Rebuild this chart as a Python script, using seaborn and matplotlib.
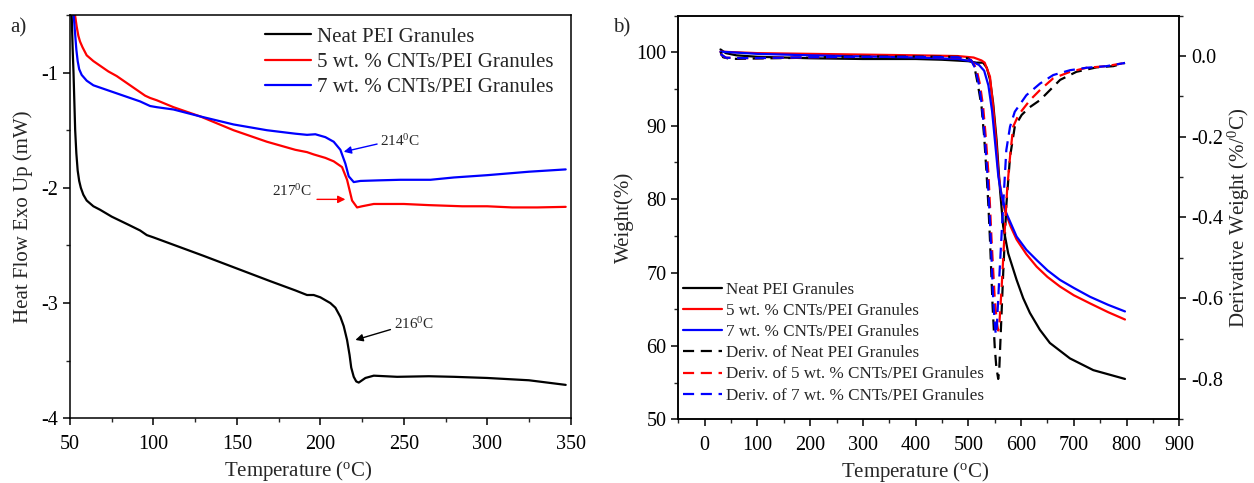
import numpy as np
import pandas as pd
import matplotlib
matplotlib.use("Agg")
import matplotlib.pyplot as plt
import seaborn as sns
from matplotlib.ticker import MultipleLocator, FormatStrFormatter
from matplotlib.lines import Line2D

# ---------------- DATA (a) DSC ----------------
dsc_neat_T = [51.0, 51.6, 52.1, 52.6, 53.1, 53.8, 54.6, 55.5, 56.5, 58, 60, 64, 68, 75, 85, 92, 96, 100,
              115, 130, 150, 170, 185, 192, 196, 200, 206, 209, 212, 214, 216, 217.5, 218.5, 220, 221.5,
              223, 225, 227, 232, 246, 265, 280, 300, 325, 347]
dsc_neat_v = [-0.5, -0.8, -1.0, -1.25, -1.5, -1.7, -1.85, -1.94, -2.0, -2.06, -2.11, -2.16, -2.19, -2.25, -2.32, -2.37, -2.41, -2.43,
              -2.51, -2.59, -2.70, -2.81, -2.89, -2.93, -2.93, -2.95, -3.0, -3.04, -3.12, -3.2, -3.32, -3.45, -3.56, -3.64, -3.68,
              -3.69, -3.67, -3.65, -3.63, -3.64, -3.635, -3.64, -3.65, -3.67, -3.71]

dsc_5_T = [53, 54, 55, 56, 57.5, 60, 64, 68, 73, 78, 85, 92, 95, 98, 102, 112, 128, 148, 168, 185, 192, 196,
           203, 208, 213, 216, 219, 222, 225, 232, 250, 265, 285, 300, 315, 330, 347]
dsc_5_v = [-0.5, -0.6, -0.68, -0.73, -0.78, -0.85, -0.9, -0.94, -0.99, -1.03, -1.1, -1.17, -1.2, -1.22, -1.24, -1.3, -1.38, -1.5, -1.6, -1.67, -1.69, -1.71,
           -1.74, -1.77, -1.82, -1.93, -2.11, -2.17, -2.16, -2.14, -2.14, -2.15, -2.16, -2.16, -2.17, -2.17, -2.165]

dsc_7_T = [52.2, 53, 53.8, 54.6, 55.5, 57, 60, 64, 72, 82, 92, 95, 98, 102, 112, 128, 148, 168, 185, 192, 197,
           203, 208, 212, 215, 217, 220, 224, 235, 248, 266, 280, 300, 325, 347]
dsc_7_v = [-0.5, -0.65, -0.8, -0.9, -0.97, -1.02, -1.07, -1.11, -1.15, -1.2, -1.25, -1.27, -1.29, -1.3, -1.32, -1.38, -1.45, -1.5, -1.53, -1.54, -1.535,
           -1.56, -1.60, -1.67, -1.79, -1.90, -1.95, -1.94, -1.935, -1.93, -1.93, -1.91, -1.89, -1.86, -1.84]

# ---------------- DATA (b) TGA ----------------
tga_neat_T = [30, 40, 60, 100, 200, 300, 400, 450, 500, 515, 528, 535, 541, 547, 553.5, 560, 566, 575.6, 591.5,
              604, 616.7, 635.6, 654.6, 692.6, 736.9, 797]
tga_neat_w = [100.4, 99.9, 99.6, 99.4, 99.2, 99.1, 99.1, 99.0, 98.8, 98.6, 98.6, 97.9, 96.3, 93.1, 88.1, 81.3, 76.3, 72.6, 69.0,
              66.5, 64.5, 62.2, 60.4, 58.3, 56.7, 55.5]

tga_5_T = [30, 100, 200, 300, 400, 480, 510, 525, 531, 541, 547, 552, 557, 563, 569, 580, 591.5, 610, 629.5,
           650, 673.6, 700, 730.6, 765, 797]
tga_5_w = [100.1, 99.9, 99.8, 99.7, 99.6, 99.5, 99.3, 98.9, 98.6, 96.7, 92.6, 88.5, 83.5, 80.5, 78.5, 76.3, 74.5, 72.5, 70.8,
           69.4, 68.1, 66.9, 65.8, 64.6, 63.6]

tga_7_T = [30, 100, 200, 300, 400, 480, 505, 520, 530, 538, 545, 551, 557, 563, 572, 591.5, 610, 629.5,
           650, 673.6, 700, 730.6, 765, 797]
tga_7_w = [100.1, 99.8, 99.6, 99.45, 99.3, 99.1, 98.8, 98.3, 97.5, 95.5, 92.0, 87.5, 83.0, 80.5, 78.1, 74.9, 73.1, 71.7,
           70.3, 69.0, 67.9, 66.7, 65.6, 64.7]

dtg_neat_T = [30, 35, 45, 60, 100, 150, 200, 250, 300, 400, 480, 500, 508, 512, 518, 525, 530, 534.5, 538, 541,
              546, 550, 553, 556.6, 558.5, 561, 566, 572, 579, 588, 601, 615, 636, 674, 705, 743, 775, 797]
dtg_neat_d = [0.01, -0.003, -0.006, -0.007, -0.006, -0.005, -0.004, -0.002, -0.001, -0.001, -0.002, -0.006, -0.015, -0.03, -0.07, -0.125, -0.2, -0.29, -0.37, -0.455,
              -0.62, -0.72, -0.77, -0.80, -0.78, -0.70, -0.54, -0.37, -0.25, -0.175, -0.146, -0.128, -0.109, -0.059, -0.039, -0.028, -0.025, -0.017]

dtg_5_T = [30, 40, 60, 100, 200, 300, 400, 480, 505, 515, 522, 528, 533, 538, 541, 544, 550, 554, 556.6, 559,
           562.8, 568, 573.6, 579, 585, 595, 617, 636, 661, 693, 724, 762, 797]
dtg_5_d = [0.005, -0.004, -0.005, -0.005, -0.003, -0.002, -0.002, -0.003, -0.01, -0.03, -0.07, -0.125, -0.2, -0.29, -0.37, -0.455, -0.60, -0.66, -0.68, -0.66,
           -0.58, -0.455, -0.33, -0.25, -0.175, -0.146, -0.109, -0.084, -0.055, -0.039, -0.029, -0.025, -0.017]

dtg_7_T = [30, 40, 60, 100, 200, 300, 400, 480, 505, 513, 520, 526, 531, 536, 539.5, 542.5, 547, 550, 552, 554,
           559, 566, 572, 579, 588, 610, 636, 661, 693, 724, 762, 797]
dtg_7_d = [0.005, -0.004, -0.005, -0.005, -0.003, -0.002, -0.002, -0.003, -0.01, -0.03, -0.07, -0.125, -0.2, -0.29, -0.37, -0.455, -0.60, -0.66, -0.69, -0.67,
           -0.54, -0.37, -0.233, -0.175, -0.138, -0.097, -0.068, -0.047, -0.035, -0.029, -0.025, -0.017]

labels = ["Neat PEI Granules", "5 wt. % CNTs/PEI Granules", "7 wt. % CNTs/PEI Granules"]
deriv_labels = ["Deriv. of Neat PEI Granules", "Deriv. of 5 wt. % CNTs/PEI Granules",
                "Deriv. of 7 wt. % CNTs/PEI Granules"]
colors = ["#000000", "#ff0000", "#0000ff"]

# ---------------- STYLE ----------------
sns.set_style("ticks")
plt.rcParams['font.family'] = ['Liberation Serif', 'DejaVu Serif']
plt.rcParams['mathtext.fontset'] = 'custom'
plt.rcParams['mathtext.rm'] = 'Liberation Serif'
plt.rcParams['mathtext.it'] = 'Liberation Serif:italic'
plt.rcParams['axes.unicode_minus'] = False
plt.rcParams['axes.linewidth'] = 1.1
plt.rcParams['axes.edgecolor'] = 'black'

TICK_FS = 14.5
LABEL_FS = 15
DASH = (0, (5, 3))

W, H = 1254, 483
fig = plt.figure(figsize=(W / 100, H / 100), dpi=100)

def fr(x0, y0, x1, y1):
    return [x0 / W, 1 - y1 / H, (x1 - x0) / W, (y1 - y0) / H]

ax1 = fig.add_axes(fr(70, 15, 570.7, 418.3))
ax2 = fig.add_axes(fr(678.3, 15.7, 1179.3, 419.3))
ax3 = ax2.twinx()

LW = 1.6

def style_ticks(ax):
    ax.tick_params(axis='both', which='major', direction='out', length=5, width=1.1,
                   labelsize=TICK_FS, colors='black')
    ax.tick_params(axis='both', which='minor', direction='out', length=3, width=1.0)
    ax.tick_params(axis='x', which='major', pad=7)

# ---------- panel a ----------
for T, v, lab, c in zip([dsc_neat_T, dsc_5_T, dsc_7_T], [dsc_neat_v, dsc_5_v, dsc_7_v], labels, colors):
    df = pd.DataFrame({"T": T, "v": v})
    sns.lineplot(data=df, x="T", y="v", ax=ax1, color=c, lw=LW, label=lab,
                 estimator=None, sort=False)

ax1.set_xlim(50, 350)
ax1.set_ylim(-4, -0.5)
ax1.xaxis.set_major_locator(MultipleLocator(50))
ax1.xaxis.set_minor_locator(MultipleLocator(25))
ax1.yaxis.set_major_locator(MultipleLocator(1))
ax1.yaxis.set_minor_locator(MultipleLocator(0.5))
style_ticks(ax1)
ax1.tick_params(top=False, right=False, which='both')
ax1.set_xlabel(r"Temperature ($^{\mathrm{o}}$C)", fontsize=LABEL_FS)
ax1.xaxis.set_label_coords(0.456, -0.102)
ax1.set_ylabel("Heat Flow Exo Up (mW)", fontsize=LABEL_FS, labelpad=6)

h1 = [Line2D([], [], color=c, lw=LW) for c in colors]
ax1.legend(h1, labels, loc='upper left', bbox_to_anchor=(265 / W, 1 - 27 / H),
           bbox_transform=fig.transFigure, frameon=False, fontsize=15, borderpad=0,
           borderaxespad=0, handlelength=2.2, handletextpad=0.3, labelspacing=0.28)

ann_fs = 11
arr = lambda col: dict(arrowstyle='-|>', color=col, lw=1.0, mutation_scale=11, shrinkA=0, shrinkB=0)
ax1.annotate("", xy=(214, -1.687), xytext=(234, -1.62), arrowprops=arr('#0000ff'))
ax1.text(236, -1.59, r"214$^{\mathrm{0}}$C", fontsize=ann_fs, va='center', ha='left')
ax1.annotate("", xy=(215, -2.10), xytext=(198, -2.10), arrowprops=arr('#ff0000'))
ax1.text(195, -2.03, r"217$^{\mathrm{0}}$C", fontsize=ann_fs, va='center', ha='right')
ax1.annotate("", xy=(221, -3.32), xytext=(242, -3.23), arrowprops=arr('black'))
ax1.text(244, -3.185, r"216$^{\mathrm{0}}$C", fontsize=ann_fs, va='center', ha='left')

# ---------- panel b ----------
for T, w, lab, c in zip([tga_neat_T, tga_5_T, tga_7_T], [tga_neat_w, tga_5_w, tga_7_w], labels, colors):
    df = pd.DataFrame({"T": T, "w": w})
    sns.lineplot(data=df, x="T", y="w", ax=ax2, color=c, lw=LW, label=lab,
                 estimator=None, sort=False)

for T, d, lab, c in zip([dtg_neat_T, dtg_5_T, dtg_7_T], [dtg_neat_d, dtg_5_d, dtg_7_d], deriv_labels, colors):
    df = pd.DataFrame({"T": T, "d": d})
    sns.lineplot(data=df, x="T", y="d", ax=ax3, color=c, lw=LW, label=lab,
                 estimator=None, sort=False, linestyle=DASH)

for a in (ax2, ax3):
    if a.get_legend() is not None:
        a.get_legend().remove()

ax2.set_xlim(-50, 900)
ax2.set_ylim(50, 105)
ax3.set_ylim(-0.9, 0.1)
ax2.xaxis.set_major_locator(MultipleLocator(100))
ax2.xaxis.set_minor_locator(MultipleLocator(50))
ax2.yaxis.set_major_locator(MultipleLocator(10))
ax2.yaxis.set_minor_locator(MultipleLocator(5))
ax3.yaxis.set_major_locator(MultipleLocator(0.2))
ax3.yaxis.set_minor_locator(MultipleLocator(0.1))
ax3.yaxis.set_major_formatter(FormatStrFormatter('%.1f'))
style_ticks(ax2)
style_ticks(ax3)
ax2.tick_params(top=False, right=False, which='both')
ax3.tick_params(axis='y', which='both', left=False, right=True)
ax2.set_xlabel(r"Temperature ($^{\mathrm{o}}$C)", fontsize=LABEL_FS)
ax2.xaxis.set_label_coords(0.474, -0.102)
ax2.set_ylabel("Weight(%)", fontsize=LABEL_FS, labelpad=2)
ax3.set_ylabel(r"Derivative Weight (%/$^{\mathrm{0}}$C)", fontsize=LABEL_FS, labelpad=2)

h2 = [Line2D([], [], color=c, lw=LW) for c in colors] + \
     [Line2D([], [], color=c, lw=LW, linestyle=DASH) for c in colors]
ax3.legend(h2, labels + deriv_labels, loc='upper left', bbox_to_anchor=(683 / W, 1 - 282 / H),
           bbox_transform=fig.transFigure, frameon=False, fontsize=12.3, borderpad=0,
           borderaxespad=0, handlelength=2.3, handletextpad=0.2, labelspacing=0.3)

fig.text(10 / W, 1 - 28 / H, "a)", fontsize=LABEL_FS, va='center', ha='left')
fig.text(613 / W, 1 - 28 / H, "b)", fontsize=LABEL_FS, va='center', ha='left')

fig.savefig("out.png", dpi=100)
